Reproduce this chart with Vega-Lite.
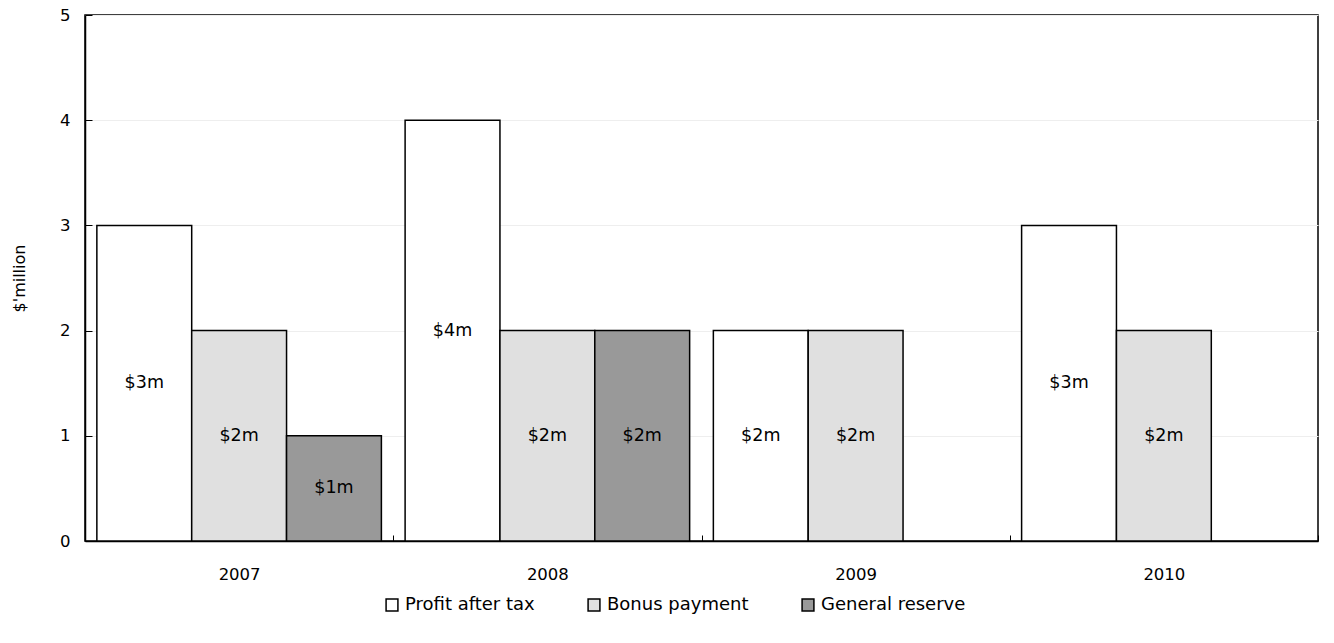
{
  "$schema": "https://vega.github.io/schema/vega-lite/v6.json",
  "width": 1233,
  "height": 526,
  "autosize": "none",
  "padding": {"left": 85, "top": 15, "right": 16, "bottom": 102},
  "background": "white",
  "config": {
    "view": {"stroke": "black", "strokeWidth": 1.5},
    "font": "DejaVu Sans"
  },
  "data": {
    "values": [
      {"year": "2007", "series": "Profit after tax", "value": 3, "label": "$3m"},
      {"year": "2007", "series": "Bonus payment", "value": 2, "label": "$2m"},
      {"year": "2007", "series": "General reserve", "value": 1, "label": "$1m"},
      {"year": "2008", "series": "Profit after tax", "value": 4, "label": "$4m"},
      {"year": "2008", "series": "Bonus payment", "value": 2, "label": "$2m"},
      {"year": "2008", "series": "General reserve", "value": 2, "label": "$2m"},
      {"year": "2009", "series": "Profit after tax", "value": 2, "label": "$2m"},
      {"year": "2009", "series": "Bonus payment", "value": 2, "label": "$2m"},
      {"year": "2010", "series": "Profit after tax", "value": 3, "label": "$3m"},
      {"year": "2010", "series": "Bonus payment", "value": 2, "label": "$2m"}
    ]
  },
  "encoding": {
    "x": {
      "field": "year", "type": "nominal",
      "scale": {"paddingInner": 0, "paddingOuter": 0},
      "axis": {
        "title": null, "labelAngle": 0, "labelFontSize": 16.5, "labelColor": "black",
        "labelPadding": 31, "domainColor": "black", "domainWidth": 1.5,
        "tickBand": "extent", "tickSize": -6, "tickColor": "black", "grid": false
      }
    },
    "xOffset": {
      "field": "series", "type": "nominal",
      "sort": ["Profit after tax", "Bonus payment", "General reserve"],
      "scale": {"paddingInner": 0, "paddingOuter": 0.125}
    }
  },
  "layer": [
    {
      "mark": {"type": "bar", "stroke": "black", "strokeWidth": 1.5},
      "encoding": {
        "y": {
          "field": "value", "type": "quantitative",
          "scale": {"domain": [0, 5]},
          "axis": {
            "title": "$'million", "titleFontSize": 16, "titleFontWeight": "normal",
            "titleColor": "black", "titlePadding": 32, "format": "d",
            "values": [0, 1, 2, 3, 4, 5], "labelFontSize": 16.5, "labelColor": "black",
            "labelPadding": 22,
            "domainColor": "black", "domainWidth": 1.5, "tickSize": -7,
            "tickColor": "black", "gridColor": "#eeeeee"
          }
        },
        "fill": {
          "field": "series", "type": "nominal",
          "sort": ["Profit after tax", "Bonus payment", "General reserve"],
          "scale": {
            "domain": ["Profit after tax", "Bonus payment", "General reserve"],
            "range": ["#ffffff", "#e0e0e0", "#999999"]
          },
          "legend": {
            "title": null, "orient": "none", "direction": "horizontal",
            "legendX": 298, "legendY": 581,
            "symbolType": "square", "symbolStrokeColor": "black", "symbolStrokeWidth": 1.5,
            "symbolSize": 140, "labelFontSize": 18, "labelColor": "black",
            "columnPadding": 50, "labelLimit": 300
          }
        }
      }
    },
    {
      "mark": {"type": "text", "fontSize": 17.5, "color": "black"},
      "encoding": {
        "y": {
          "field": "value", "type": "quantitative",
          "scale": {"domain": [0, 10]},
          "axis": null
        },
        "text": {"field": "label"}
      }
    }
  ],
  "resolve": {"scale": {"y": "independent"}}
}
